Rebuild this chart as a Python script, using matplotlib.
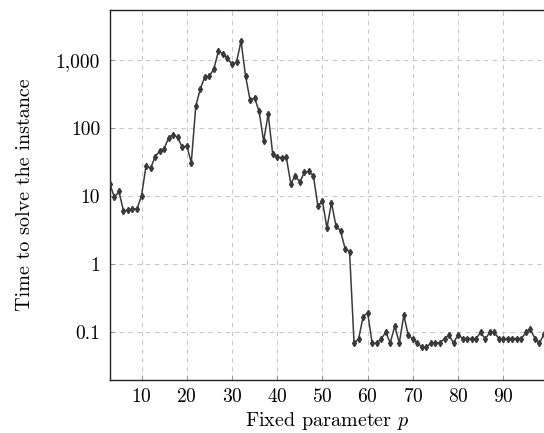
import numpy as np
import matplotlib
matplotlib.use("Agg")
import matplotlib.pyplot as plt
from matplotlib.ticker import FixedLocator, FixedFormatter, NullLocator

plt.rcParams['font.family'] = 'serif'
plt.rcParams['font.serif'] = ['cmr10']
plt.rcParams['mathtext.fontset'] = 'cm'
plt.rcParams['axes.formatter.use_mathtext'] = True

# fixed parameter p and solving time
p = list(range(3, 100))
t = [15, 9.6, 11.7, 6.1, 6.2, 6.5, 6.5, 10.2, 28, 25.6,
     38, 45.7, 50, 72, 80, 73, 52, 55, 31, 211,
     377, 565, 580, 740, 1350, 1240, 1060, 865, 930, 1890,
     580, 258, 276, 176, 64, 161, 42, 37.5, 36.6, 37.5,
     15.3, 20, 16, 22.4, 23, 20, 7.1, 8.5, 3.4, 8.0,
     3.65, 3.1, 1.7, 1.52, 0.069, 0.080, 0.169, 0.194, 0.069, 0.069,
     0.080, 0.100, 0.070, 0.123, 0.070, 0.177, 0.090, 0.079, 0.070, 0.060,
     0.060, 0.070, 0.070, 0.070, 0.081, 0.090, 0.070, 0.092, 0.081, 0.081,
     0.081, 0.081, 0.100, 0.079, 0.100, 0.100, 0.081, 0.081, 0.081, 0.081,
     0.081, 0.081, 0.100, 0.110, 0.081, 0.069, 0.094]

xticks = [10, 20, 30, 40, 50, 60, 70, 80, 90]
yticks = [0.1, 1, 10, 100, 1000]
ylabels = ['0.1', '1', '10', '100', '1,000']

fig = plt.figure(figsize=(5.44, 4.33), dpi=100)
ax = fig.add_axes([0.202, 0.1224, 0.798, 0.8545])

ax.plot(p, t, color='#3a3a3a', lw=1.1, marker='d', ms=3.2, zorder=3)

ax.set_yscale('log')
ax.set_xlim(3, 99)
ax.set_ylim(0.0199, 5420)

ax.xaxis.set_major_locator(FixedLocator(xticks))
ax.yaxis.set_major_locator(FixedLocator(yticks))
ax.yaxis.set_major_formatter(FixedFormatter(ylabels))
ax.yaxis.set_minor_locator(NullLocator())
ax.tick_params(direction='in', length=3.5, width=0.6, color='#888888', labelsize=14, pad=7)
ax.tick_params(axis='x', pad=5.5)

ax.grid(True, which='major', ls=(0, (4, 4)), color='#c8c8c8', lw=0.8)
ax.set_axisbelow(True)
for s in ['left', 'bottom', 'top']:
    ax.spines[s].set_linewidth(1.0)
    ax.spines[s].set_color('#222222')
ax.spines['right'].set_visible(False)

ax.set_xlabel('Fixed parameter $p$', fontsize=14.5, labelpad=3)
ax.set_ylabel('Time to solve the instance', fontsize=14.5, labelpad=16)

fig.savefig('out.png', dpi=100)
